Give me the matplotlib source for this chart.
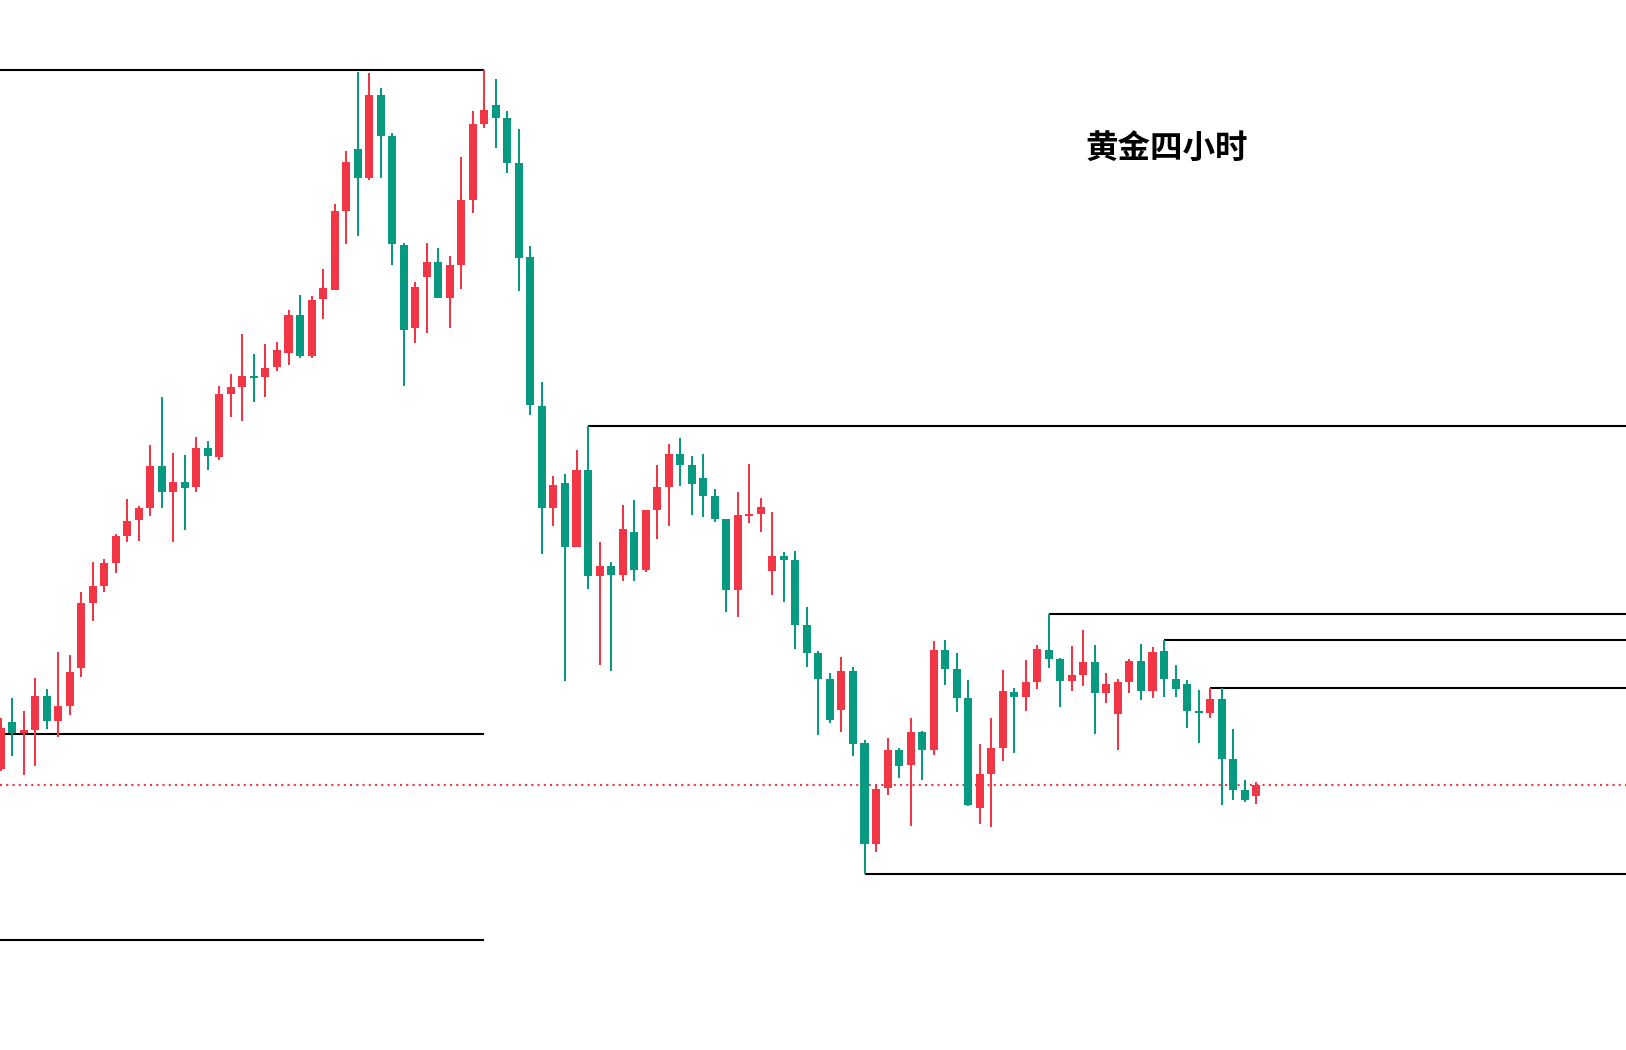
import matplotlib
matplotlib.use("Agg")
import matplotlib.pyplot as plt
import numpy as np

plt.rcParams['font.family'] = ['Noto Sans CJK SC', 'DejaVu Sans']

# gold 4h candles
opens = [2631, 2678, 2667, 2670, 2704, 2679, 2694, 2732, 2797, 2814,
         2837, 2864, 2880, 2892, 2934, 2908, 2918, 2913, 2952, 2943,
         3006, 3013, 3024, 3023, 3033, 3047, 3085, 3044, 3101, 3110,
         3189, 3251, 3222, 3305, 3264, 3155, 3072, 3123, 3138, 3102,
         3135, 3200, 3276, 3295, 3282, 3237, 3143, 2994, 2892, 2917,
         2853, 2930, 2824, 2834, 2825, 2868, 2830, 2890, 2913, 2946,
         2935, 2922, 2904, 2881, 2810, 2884, 2886, 2829, 2844, 2840,
         2775, 2747, 2721, 2690, 2729, 2657, 2556, 2612, 2650, 2635,
         2668, 2650, 2750, 2731, 2702, 2592, 2626, 2652, 2708, 2703,
         2718, 2750, 2741, 2719, 2725, 2738, 2707, 2686, 2718, 2739,
         2709, 2749, 2721, 2716, 2689, 2687, 2701, 2641, 2610, 2604]
highs = [2682, 2702, 2689, 2722, 2711, 2748, 2745, 2808, 2838, 2841,
         2866, 2901, 2894, 2955, 3003, 2947, 2945, 2963, 2959, 3014,
         3026, 3066, 3046, 3056, 3058, 3090, 3105, 3104, 3131, 3196,
         3249, 3328, 3327, 3312, 3267, 3157, 3118, 3157, 3152, 3144,
         3243, 3289, 3330, 3321, 3289, 3271, 3154, 3018, 2924, 2926,
         2950, 2974, 2858, 2838, 2895, 2900, 2890, 2935, 2956, 2962,
         2944, 2946, 2911, 2881, 2908, 2936, 2902, 2888, 2848, 2849,
         2793, 2749, 2727, 2743, 2733, 2660, 2614, 2662, 2652, 2682,
         2669, 2759, 2760, 2747, 2720, 2656, 2682, 2730, 2712, 2740,
         2755, 2786, 2742, 2754, 2770, 2755, 2727, 2721, 2741, 2756,
         2753, 2760, 2735, 2720, 2710, 2712, 2712, 2671, 2620, 2618]
lows = [2629, 2644, 2625, 2634, 2671, 2663, 2685, 2723, 2779, 2808,
        2827, 2858, 2859, 2884, 2892, 2858, 2870, 2908, 2930, 2940,
        2983, 2979, 2998, 3003, 3029, 3035, 3042, 3042, 3081, 3110,
        3156, 3164, 3220, 3222, 3135, 3014, 3057, 3067, 3102, 3072,
        3111, 3187, 3272, 3252, 3227, 3109, 2985, 2846, 2874, 2719,
        2853, 2811, 2735, 2729, 2819, 2819, 2828, 2861, 2874, 2914,
        2885, 2883, 2878, 2788, 2783, 2877, 2868, 2805, 2798, 2751,
        2733, 2665, 2677, 2668, 2644, 2526, 2548, 2605, 2622, 2574,
        2620, 2645, 2715, 2688, 2594, 2576, 2573, 2639, 2647, 2689,
        2711, 2732, 2693, 2709, 2714, 2666, 2697, 2650, 2707, 2700,
        2702, 2703, 2703, 2672, 2657, 2682, 2595, 2600, 2598, 2596]
closes = [2672, 2667, 2670, 2704, 2679, 2694, 2728, 2797, 2814, 2837,
          2864, 2879, 2892, 2934, 2908, 2918, 2912, 2952, 2944, 3006,
          3013, 3024, 3022, 3032, 3050, 3085, 3044, 3100, 3112, 3189,
          3238, 3222, 3305, 3264, 3156, 3070, 3113, 3138, 3102, 3135,
          3200, 3276, 3290, 3282, 3237, 3142, 2995, 2892, 2915, 2853,
          2930, 2824, 2834, 2825, 2871, 2830, 2890, 2913, 2946, 2935,
          2916, 2904, 2881, 2810, 2885, 2886, 2893, 2844, 2840, 2775,
          2747, 2721, 2680, 2729, 2656, 2556, 2611, 2650, 2634, 2668,
          2650, 2750, 2731, 2702, 2595, 2626, 2652, 2709, 2703, 2718,
          2751, 2741, 2719, 2725, 2738, 2707, 2716, 2718, 2739, 2709,
          2748, 2721, 2711, 2689, 2687, 2701, 2641, 2610, 2600, 2615]

# support / resistance levels
left_levels = [3330, 2666, 2460]
left_end = 42
right_levels = [2974, 2786, 2760, 2712, 2526]
right_start = [51, 91, 101, 105, 75]
last_price = 2615

up_color = '#f23645'
down_color = '#089981'

fig = plt.figure(figsize=(16.26, 10.5), dpi=100)
ax = fig.add_axes([0, 0, 1, 1])

o = np.array(opens)
h = np.array(highs)
l = np.array(lows)
c = np.array(closes)
x = np.arange(len(o))
colors = [up_color if cc >= oo else down_color for oo, cc in zip(o, c)]

ax.vlines(x, l, h, colors=colors, lw=1.45, zorder=2)
body = np.maximum(np.abs(c - o), 1.5)
ax.bar(x, body, bottom=np.minimum(o, c), width=0.7, color=colors,
       linewidth=0, zorder=3)

ax.hlines(left_levels, -1, left_end, colors='black', lw=1.5, zorder=1)
for lev, st in zip(right_levels, right_start):
    ax.hlines(lev, st, 150, colors='black', lw=1.5, zorder=1)

ax.axhline(last_price, color=up_color, lw=1.5, linestyle=(0, (1, 2)), zorder=1)

fig.text(0.7175, 0.8586, '黄金四小时', fontsize=23.4, fontweight='bold',
         ha='center', va='center')

pitch = 11.52  # px per candle
ax.set_xlim(-0.5 / pitch, 1625.5 / pitch)
ax.set_ylim(2350, 3400)
ax.axis('off')

fig.savefig('out.png', dpi=100)
